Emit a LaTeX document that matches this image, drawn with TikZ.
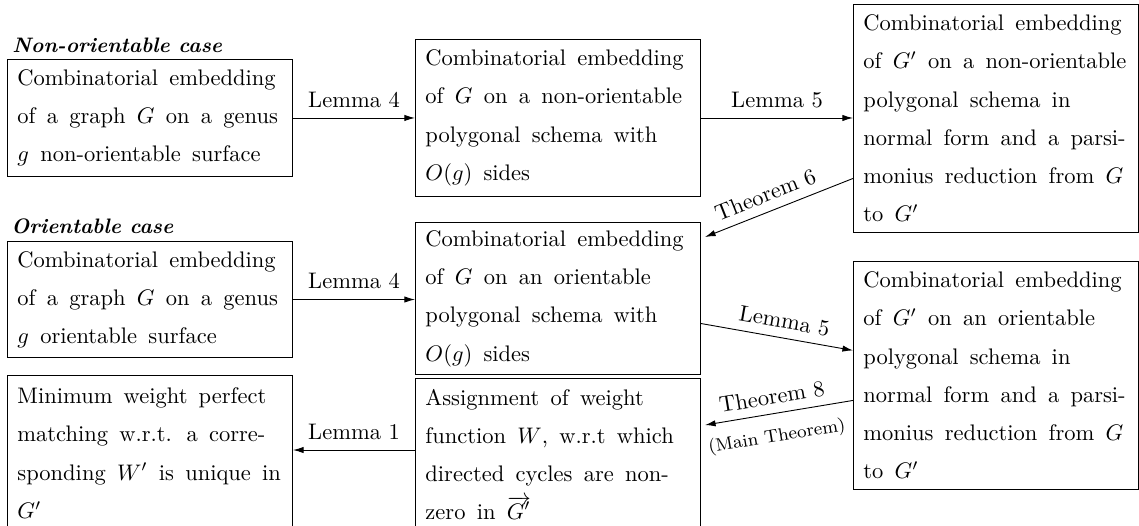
\documentclass[tikz,border=0pt]{standalone}
\usetikzlibrary{arrows.meta}
\newcommand\oneline[1]{\mbox{\spaceskip=5pt\relax\xspaceskip=6.5pt\relax #1}}
\tikzset{
  box/.style={draw, line width=0.4pt, anchor=north west, inner xsep=4.44pt, inner ysep=0pt,
    text width=117.8pt, align=left, minimum width=126.7pt,
    font=\fontsize{10pt}{17pt}\selectfont},
  arr/.style={-{Latex[length=4.7pt,width=2.8pt]}, line width=0.4pt},
  lab/.style={above=1.1pt},
  slab/.style={sloped, above=0.5pt},
  head/.style={anchor=base west, inner sep=0pt, font=\fontsize{9.3pt}{11pt}\selectfont\bfseries\itshape},
}
\begin{document}
\begin{tikzpicture}[x=0.4444pt, y=-0.4444pt]
\useasboundingbox (0,0) rectangle (1139,525);

\node[head] (h1) at (12,52) {Non-orientable case};
\node[head] (h2) at (11,233) {Orientable case};

\node[box, minimum height=52pt] (A) at (7,59)
  {\oneline{Combinatorial embedding}\\ \oneline{of a graph $G$ on a genus}\\ \oneline{$g$ non-orientable surface}};
\node[box, minimum height=69.8pt] (B) at (415,39)
  {\oneline{Combinatorial embedding}\\ \oneline{of $G$ on a non-orientable}\\ \oneline{polygonal schema with}\\ \oneline{$O(g)$ sides}};
\node[box, minimum height=101.3pt] (C) at (853,4)
  {\oneline{Combinatorial embedding}\\ \oneline{of $G'$ on a non-orientable}\\ \oneline{polygonal schema in}\\ \oneline{normal form and a parsi-}\\ \oneline{monius reduction from $G$}\\ \oneline{to $G'$}};
\node[box, minimum height=51.6pt] (D) at (7,241)
  {\oneline{Combinatorial embedding}\\ \oneline{of a graph $G$ on a genus}\\ \oneline{$g$ orientable surface}};
\node[box, minimum height=67.6pt] (E) at (415,222)
  {\oneline{Combinatorial embedding}\\ \oneline{of $G$ on an orientable}\\ \oneline{polygonal schema with}\\ \oneline{$O(g)$ sides}};
\node[box, minimum height=67.6pt] (F) at (415,378)
  {\oneline{Assignment of weight}\\ \oneline{function $W$, w.r.t which}\\ \oneline{directed cycles are non-}\\ \oneline{zero in $\overrightarrow{G'}$}};
\node[box, minimum height=68.9pt] (G) at (7,375)
  {\oneline{Minimum weight perfect}\\ \oneline{matching w.r.t. a corre-}\\ \oneline{sponding $W'$ is unique in}\\ \oneline{$G'$}};
\node[box, minimum height=101.3pt] (H) at (853,261)
  {\oneline{Combinatorial embedding}\\ \oneline{of $G'$ on an orientable}\\ \oneline{polygonal schema in}\\ \oneline{normal form and a parsi-}\\ \oneline{monius reduction from $G$}\\ \oneline{to $G'$}};

% non-orientable row
\draw[arr] (A.east) -- (A.east -| B.west) node[midway, lab] {Lemma 4};
\draw[arr] (B.east) -- (B.east -| C.west) node[midway, lab] {Lemma 5};
\draw[arr] ([yshift=-26.67pt]C.west) -- ([xshift=1.78pt,yshift=-6.67pt]E.north east);
\path ([xshift=1.78pt,yshift=-6.67pt]E.north east) -- ([yshift=-26.67pt]C.west)
  node[pos=0.45, slab] {Theorem 6};

% orientable row
\draw[arr] (D.east) -- (D.east -| E.west) node[midway, lab] {Lemma 4};
\draw[arr] ([yshift=-11.11pt]E.east) -- ([yshift=11.11pt]H.west)
  node[pos=0.53, slab] {Lemma 5};
\draw[arr] ([yshift=-11.11pt]H.west) -- ([xshift=1.78pt,yshift=-20.9pt]F.north east);
\path ([xshift=1.78pt,yshift=-20.9pt]F.north east) -- ([yshift=-11.11pt]H.west)
  node[pos=0.47, slab] {Theorem 8}
  node[pos=0.46, sloped, below=3pt, font=\footnotesize] {(Main Theorem)};
\draw[arr] ([yshift=-32pt]F.north west) -- ([yshift=-32pt]F.north west -| G.east)
  node[midway, lab] {Lemma 1};
\end{tikzpicture}
\end{document}
